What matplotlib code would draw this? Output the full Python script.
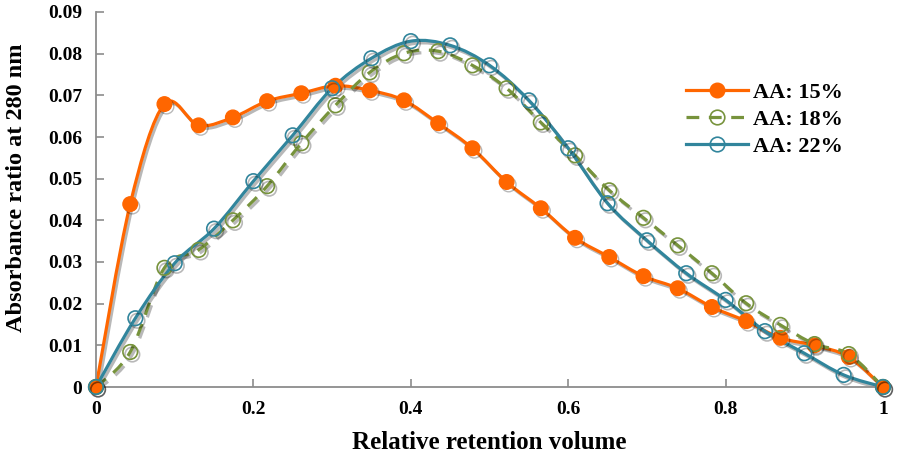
import numpy as np
import matplotlib
matplotlib.use("Agg")
import matplotlib.pyplot as plt
from matplotlib.path import Path
from matplotlib.patches import PathPatch
from matplotlib.lines import Line2D
import matplotlib.patheffects as pe

# ---- data ----
x_15 = [i / 23 for i in range(24)]
y_15 = [0, 0.0439, 0.0679, 0.0628, 0.0647, 0.0686, 0.0705, 0.0723, 0.0712, 0.0688,
        0.0633, 0.0573, 0.0492, 0.0429, 0.0358, 0.0312, 0.0266, 0.0237, 0.0192,
        0.0158, 0.0118, 0.0100, 0.0072, 0]
x_18 = [i / 23 for i in range(24)]
y_18 = [0, 0.0084, 0.0286, 0.0329, 0.0400, 0.0482, 0.0585, 0.0676, 0.0755, 0.0801,
        0.0806, 0.0772, 0.0717, 0.0635, 0.0556, 0.0472, 0.0406, 0.0340, 0.0273,
        0.0201, 0.0149, 0.0103, 0.0079, 0]
x_22 = [i / 20 for i in range(21)]
y_22 = [0, 0.0165, 0.0297, 0.0380, 0.0494, 0.0604, 0.0717, 0.0789, 0.0830, 0.0820,
        0.0772, 0.0688, 0.0573, 0.0441, 0.0352, 0.0273, 0.0209, 0.0134, 0.0081,
        0.0029, 0]
labels = ["AA: 15%", "AA: 18%", "AA: 22%"]
x_ticks = [0, 0.2, 0.4, 0.6, 0.8, 1]
x_ticklabels = ["0", "0.2", "0.4", "0.6", "0.8", "1"]
y_ticks = [0, 0.01, 0.02, 0.03, 0.04, 0.05, 0.06, 0.07, 0.08, 0.09]
y_ticklabels = ["0", "0.01", "0.02", "0.03", "0.04", "0.05", "0.06", "0.07", "0.08", "0.09"]

colors = ["#FF6600", "#77933C", "#31859C"]

plt.rcParams["font.family"] = ["Liberation Serif", "DejaVu Serif"]
plt.rcParams["font.weight"] = "bold"

fig = plt.figure(figsize=(8.98, 4.62), dpi=100)
ax = fig.add_axes([96 / 898, 1 - 387 / 462, (883 - 96) / 898, (387 - 12) / 462])


def smooth_path(xs, ys):
    """Excel-style smoothed line as cubic Bezier path (Catmull-Rom control points)."""
    P = np.column_stack([xs, ys]).astype(float)
    n = len(P)
    verts = [P[0]]
    codes = [Path.MOVETO]
    for i in range(n - 1):
        p0 = P[i - 1] if i > 0 else P[i]
        p1 = P[i]
        p2 = P[i + 1]
        p3 = P[i + 2] if i + 2 < n else P[i + 1]
        c1 = p1 + (p2 - p0) / 6.0
        c2 = p2 - (p3 - p1) / 6.0
        verts += [c1, c2, p2]
        codes += [Path.CURVE4] * 3
    return Path(np.array(verts), codes)


shadow = [pe.SimpleLineShadow(offset=(1.5, -1.8), shadow_color="black", alpha=0.28), pe.Normal()]

series = [(x_15, y_15, "-"), (x_18, y_18, (0, (4, 3))), (x_22, y_22, "-")]
for (xs, ys, ls), c in zip(series, colors):
    patch = PathPatch(smooth_path(xs, ys), facecolor="none", edgecolor=c, lw=2.3,
                      linestyle=ls, transform=ax.transData, zorder=2,
                      path_effects=shadow, capstyle="butt")
    ax.add_patch(patch)

ms = 10.5
ax.plot(x_15, y_15, ls="none", marker="o", ms=ms, mfc=colors[0], mec=colors[0],
        zorder=3, path_effects=shadow, clip_on=False)
ax.plot(x_18, y_18, ls="none", marker="o", ms=ms, mfc="none", mec=colors[1], mew=1.2,
        zorder=3, path_effects=shadow, clip_on=False)
ax.plot(x_22, y_22, ls="none", marker="o", ms=ms, mfc="none", mec=colors[2], mew=1.2,
        zorder=3, path_effects=shadow, clip_on=False)

ax.set_xlim(0, 1)
ax.set_ylim(0, 0.09)
ax.set_xticks(x_ticks)
ax.set_xticklabels(x_ticklabels)
ax.set_yticks(y_ticks)
ax.set_yticklabels(y_ticklabels)

for s in ["top", "right"]:
    ax.spines[s].set_visible(False)
for s in ["left", "bottom"]:
    ax.spines[s].set_color("#8C8C8C")
    ax.spines[s].set_linewidth(1.3)
ax.tick_params(direction="in", length=6, width=1.2, color="#8C8C8C",
               labelsize=14, pad=10)
for t in ax.get_xticklabels() + ax.get_yticklabels():
    t.set_fontweight("bold")

ax.set_xlabel("Relative retention volume", fontsize=18, fontweight="bold", labelpad=9.5)
ax.set_ylabel("Absorbance ratio at 280 nm", fontsize=17.5, fontweight="bold")
ax.yaxis.set_label_coords(-0.0877, 0.532)

handles = [
    Line2D([], [], color=colors[0], lw=2.3, marker="o", ms=ms, mfc=colors[0], mec=colors[0]),
    Line2D([], [], color=colors[1], lw=2.3, ls=(0, (4, 3)), marker="o", ms=ms, mfc="none",
           mec=colors[1], mew=1.2),
    Line2D([], [], color=colors[2], lw=2.3, marker="o", ms=ms, mfc="none", mec=colors[2], mew=1.2),
]
leg = ax.legend(handles, labels, loc="upper left", bbox_to_anchor=(675 / 898, 1 - 71 / 462),
                bbox_transform=fig.transFigure, frameon=False, handlelength=2.8,
                handletextpad=0.2, labelspacing=0.3, borderpad=0,
                prop={"size": 16, "weight": "bold"})

fig.savefig("out.png", dpi=100)
